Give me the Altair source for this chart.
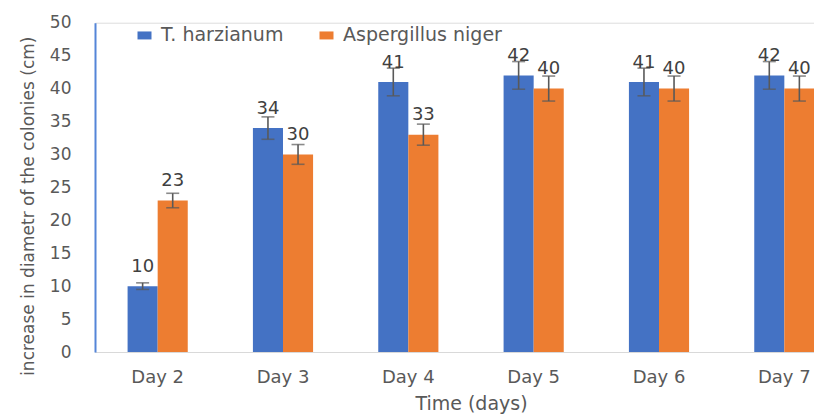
import altair as alt
import pandas as pd

days = ["Day 2", "Day 3", "Day 4", "Day 5", "Day 6", "Day 7"]
series = ["T. harzianum", "Aspergillus niger"]
t_vals = [10, 34, 41, 42, 41, 42]
a_vals = [23, 30, 33, 40, 40, 40]
t_err = [0.5, 1.7, 2.1, 2.1, 2.1, 2.1]
a_err = [1.1, 1.5, 1.6, 1.9, 1.9, 1.9]
y_ticks = [0, 5, 10, 15, 20, 25, 30, 35, 40, 45, 50]
colors = ["#4472C4", "#ED7D31"]

rows = []
for i, d in enumerate(days):
    rows.append({"day": d, "series": series[0], "value": t_vals[i], "err": t_err[i]})
    rows.append({"day": d, "series": series[1], "value": a_vals[i], "err": a_err[i]})
df = pd.DataFrame(rows)
df["lo"] = df["value"] - df["err"]
df["hi"] = df["value"] + df["err"]

FONT = "DejaVu Sans"
GREY = "#595959"

x_axis = alt.Axis(title="Time (days)", ticks=False, tickSize=0, grid=False,
                  domainColor="#d9d9d9", domainWidth=1,
                  labelAngle=0, labelFont=FONT, labelFontSize=18, labelColor=GREY,
                  labelBaseline="alphabetic", labelPadding=30.7,
                  titleFont=FONT, titleFontSize=19, titleColor=GREY, titleFontWeight="normal",
                  titleBaseline="alphabetic", titleY=57)
y_axis = alt.Axis(title="increase in diametr of the colonies (cm)", values=y_ticks,
                  ticks=False, tickSize=0, grid=False,
                  domainColor="#5585d8", domainWidth=2,
                  labelFont=FONT, labelFontSize=17, labelColor=GREY, labelPadding=24,
                  titleFont=FONT, titleFontSize=17, titleColor=GREY, titleFontWeight="normal",
                  titleAngle=270, titleBaseline="alphabetic", titleX=-62, titleY=183)

x = alt.X("day:N", sort=days,
          scale=alt.Scale(range=[0, 752], paddingInner=0.52, paddingOuter=0.26),
          axis=x_axis)
xo = alt.XOffset("series:N", sort=series,
                 scale=alt.Scale(domain=series, paddingInner=0, paddingOuter=0))
yscale = alt.Scale(domain=[0, 50], nice=False)

color = alt.Color("series:N", sort=series,
                  scale=alt.Scale(domain=series, range=colors),
                  legend=alt.Legend(orient="none", legendX=40, legendY=3,
                                    direction="horizontal", title=None,
                                    symbolType="M-1,-0.57H1V0.57H-1Z", symbolSize=196,
                                    symbolStrokeWidth=0,
                                    labelFont=FONT, labelFontSize=19, labelColor=GREY,
                                    labelOffset=7, columnPadding=33, padding=0))

base = alt.Chart(df)

bars = base.mark_bar().encode(
    x=x, xOffset=xo,
    y=alt.Y("value:Q", scale=yscale, axis=y_axis),
    color=color,
)
rules = base.mark_rule(color=GREY, strokeWidth=1.6).encode(
    x=x, xOffset=xo,
    y=alt.Y("lo:Q", scale=yscale, axis=y_axis),
    y2="hi:Q",
)
cap_hi = base.mark_tick(color=GREY, size=13, thickness=1.6, orient="horizontal").encode(
    x=x, xOffset=xo,
    y=alt.Y("hi:Q", scale=yscale, axis=y_axis),
)
cap_lo = base.mark_tick(color=GREY, size=13, thickness=1.6, orient="horizontal").encode(
    x=x, xOffset=xo,
    y=alt.Y("lo:Q", scale=yscale, axis=y_axis),
)
labels = base.mark_text(font=FONT, fontSize=18, color="#404040",
                        baseline="alphabetic", dy=-14.3).encode(
    x=x, xOffset=xo,
    y=alt.Y("value:Q", scale=yscale, axis=y_axis),
    text=alt.Text("value:Q"),
)

chart = alt.layer(bars, rules, cap_hi, cap_lo, labels).properties(
    width=719, height=329.3,
    autosize=alt.AutoSizeParams(type="none"),
    padding={"left": 87, "top": 14.7, "right": 0, "bottom": 63},
).configure_view(stroke=None).configure(background="white")

chart.save("out.html", embed_options={"renderer": "svg", "actions": False})
